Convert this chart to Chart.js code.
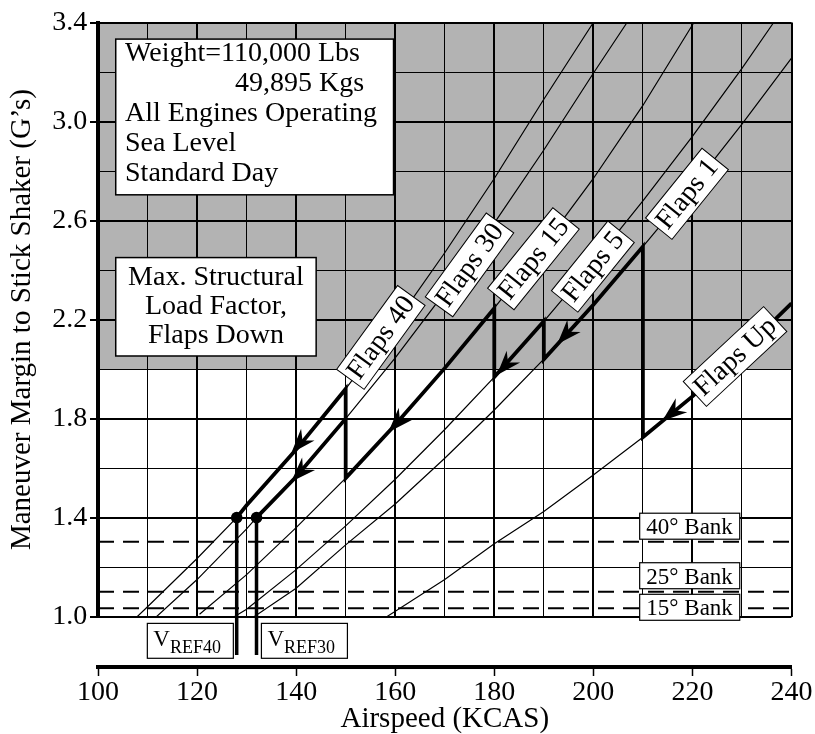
<!DOCTYPE html>
<html>
<head>
<meta charset="utf-8">
<script src="https://cdn.jsdelivr.net/npm/chart.js@4.4.0/dist/chart.umd.min.js"></script>
<style>
    html, body { margin: 0; padding: 0; background: #fff; }
</style>
</head>
<body>
<canvas id="marginChart" width="815" height="734"></canvas>
<script>
// speeds (KCAS) and maneuver margin (G)
var flaps40Speed = [107.9, 110, 120, 128, 130, 140, 150, 160, 170, 180, 190, 200];
var flaps40G     = [1.00, 1.04, 1.235, 1.40, 1.45, 1.675, 1.92, 2.185, 2.47, 2.77, 3.09, 3.40];
var flaps30Speed = [111.8, 120, 130, 132, 140, 150, 160, 170, 180, 190, 200, 206.8];
var flaps30G     = [1.00, 1.15, 1.355, 1.40, 1.565, 1.80, 2.045, 2.31, 2.59, 2.885, 3.195, 3.40];
var flaps15Speed = [120.5, 130, 140, 150, 160, 170, 180, 190, 200, 210, 220.3];
var flaps15G     = [1.01, 1.17, 1.36, 1.56, 1.775, 2.004, 2.246, 2.50, 2.77, 3.065, 3.40];
var flaps5Speed  = [127.5, 130, 140, 150, 160, 170, 180, 190, 200, 210, 220, 230, 236.4];
var flaps5G      = [1.00, 1.03, 1.19, 1.367, 1.555, 1.756, 1.968, 2.193, 2.43, 2.68, 2.94, 3.215, 3.40];
var flaps1Speed  = [131.5, 140, 150, 160, 170, 180, 190, 200, 210, 220, 230, 240];
var flaps1G      = [1.00, 1.115, 1.29, 1.455, 1.64, 1.835, 2.04, 2.26, 2.495, 2.735, 2.99, 3.256];
var flapsUpSpeed = [158.3, 170, 180, 190, 200, 210, 220, 230, 240];
var flapsUpG     = [1.00, 1.15, 1.295, 1.425, 1.572, 1.725, 1.89, 2.07, 2.266];

var curveNames  = ["Flaps 40", "Flaps 30", "Flaps 15", "Flaps 5", "Flaps 1", "Flaps Up"];
var curveSpeeds = [flaps40Speed, flaps30Speed, flaps15Speed, flaps5Speed, flaps1Speed, flapsUpSpeed];
var curveGs     = [flaps40G, flaps30G, flaps15G, flaps5G, flaps1G, flapsUpG];

// flap retraction schedule: [curve, from speed, to speed]
var schedulePath = [["Flaps 40", 128, 150], ["Flaps 15", 150, 180], ["Flaps 5", 180, 190], ["Flaps 1", 190, 210], ["Flaps Up", 210, 240]];
var schedule30   = [["Flaps 30", 132, 150]];

var arrowCurve = ["Flaps 40", "Flaps 30", "Flaps 15", "Flaps 5", "Flaps 1", "Flaps Up"];
var arrowSpeed = [139, 139, 158.6, 180.5, 192.7, 213.9];
var arrowG     = [1.66, 1.545, 1.745, 1.975, 2.10, 1.79];

var labelSpeed = [157.1, 175.0, 187.9, 199.9, 218.9, 228.6];
var labelG     = [2.128, 2.421, 2.446, 2.414, 2.708, 2.051];
var labelAngle = [-54, -54, -51, -51, -51, -43];

var bankNames = ["40° Bank", "25° Bank", "15° Bank"];
var bankG     = [1.303, 1.101, 1.034];
var bankBoxTopG = [1.418, 1.218, 1.0905];

var vrefNames = ["40", "30"];
var vrefSpeed = [128, 132];
var vrefG = 1.4;
var vrefBottomG = 0.845;
var vrefBoxLeft = [109.96, 132.99];

var structuralLimitG = 2.0;
var xTicks = [100, 120, 140, 160, 180, 200, 220, 240];
var yTicks = [1.0, 1.4, 1.8, 2.2, 2.6, 3.0, 3.4];

var infoLines = ["Weight=110,000 Lbs", "49,895 Kgs", "All Engines Operating", "Sea Level", "Standard Day"];
var structLines = ["Max. Structural", "Load Factor,", "Flaps Down"];

var serif = "'Liberation Serif', 'Times New Roman', serif";

function curvePoints(name, from, to)
{
    var i = curveNames.indexOf(name);
    var pts = [];
    for (var k = 0; k < curveSpeeds[i].length; k++) {
        var v = curveSpeeds[i][k];
        if (from === undefined || (v >= from && v <= to)) {
            pts.push({x: v, y: curveGs[i][k]});
        }
    }
    return pts;
}

function pathPoints(segments)
{
    var pts = [];
    segments.forEach(function(s) {
        pts = pts.concat(curvePoints(s[0], s[1], s[2]));
    });
    return pts;
}

function boxText(ctx, text, x, y, font, align)
{
    ctx.font = font;
    ctx.textAlign = align || "left";
    ctx.textBaseline = "alphabetic";
    ctx.fillText(text, x, y);
}

function arrowHead(ctx, x0, y0, ang)
{
    ctx.save();
    ctx.translate(x0, y0);
    ctx.rotate(ang);
    ctx.beginPath();
    ctx.moveTo(0, 0);
    ctx.lineTo(-25, -9);
    ctx.lineTo(-17, 0);
    ctx.lineTo(-25, 9);
    ctx.closePath();
    ctx.fill();
    ctx.restore();
}

var notesPlugin = {
    id: "notes",
    afterDatasetsDraw: function(chart)
    {
        var ctx = chart.ctx;
        var xs = chart.scales.x, ys = chart.scales.y;
        var px = function(v) { return xs.getPixelForValue(v); };
        var py = function(g) { return ys.getPixelForValue(g); };
        ctx.save();
        ctx.fillStyle = "#000";

        // arrows along the schedule
        for (var a = 0; a < arrowSpeed.length; a++) {
            var ci = curveNames.indexOf(arrowCurve[a]);
            var sp = curveSpeeds[ci], gs = curveGs[ci], k = 0;
            while (k < sp.length - 2 && sp[k + 1] <= arrowSpeed[a]) k++;
            var ang = Math.atan2(py(gs[k]) - py(gs[k + 1]), px(sp[k]) - px(sp[k + 1]));
            arrowHead(ctx, px(arrowSpeed[a]), py(arrowG[a]), ang);
        }

        // flap labels
        for (var f = 0; f < curveNames.length; f++) {
            ctx.save();
            ctx.translate(px(labelSpeed[f]), py(labelG[f]));
            ctx.rotate(labelAngle[f] * Math.PI / 180);
            ctx.font = "28px " + serif;
            var w = ctx.measureText(curveNames[f]).width + 8, h = 34;
            ctx.fillStyle = "#fff";
            ctx.fillRect(-w / 2, -h / 2, w, h);
            ctx.lineWidth = 1;
            ctx.strokeStyle = "#000";
            ctx.strokeRect(-w / 2, -h / 2, w, h);
            ctx.fillStyle = "#000";
            ctx.textAlign = "center";
            ctx.textBaseline = "middle";
            ctx.fillText(curveNames[f], 0, 1);
            ctx.restore();
        }

        ctx.lineWidth = 1.5;
        ctx.strokeStyle = "#000";

        // weight box
        var l = px(103.58), t = py(3.333), r = px(159.66), b = py(2.704);
        ctx.fillStyle = "#fff";
        ctx.fillRect(l, t, r - l, b - t);
        ctx.strokeRect(l, t, r - l, b - t);
        ctx.fillStyle = "#000";
        infoLines.forEach(function(s, i) {
            boxText(ctx, s, l + (i === 1 ? 119.3 : 9.3), t + 22.4 + 30 * i, "28px " + serif);
        });

        // structural limit box
        l = px(103.58); t = py(2.4505); r = px(144.04); b = py(2.053);
        ctx.fillStyle = "#fff";
        ctx.fillRect(l, t, r - l, b - t);
        ctx.strokeRect(l, t, r - l, b - t);
        ctx.fillStyle = "#000";
        structLines.forEach(function(s, i) {
            boxText(ctx, s, (l + r) / 2, t + 27.3 + 29 * i, "28px " + serif, "center");
        });

        // bank boxes
        ctx.lineWidth = 1.2;
        for (var n = 0; n < bankNames.length; n++) {
            l = px(209.35); r = px(229.55); t = py(bankBoxTopG[n]);
            ctx.fillStyle = "#fff";
            ctx.fillRect(l, t, r - l, 26);
            ctx.strokeRect(l, t, r - l, 26);
            ctx.fillStyle = "#000";
            boxText(ctx, bankNames[n], l + 6.7, t + 21, "23px " + serif);
        }

        // VREF boxes
        for (var q = 0; q < vrefNames.length; q++) {
            l = px(vrefBoxLeft[q]); t = py(0.973); b = py(0.832);
            ctx.fillStyle = "#fff";
            ctx.fillRect(l, t, 86, b - t);
            ctx.strokeRect(l, t, 86, b - t);
            ctx.fillStyle = "#000";
            boxText(ctx, "V", l + 6, t + 22.7, "23px " + serif);
            var vw = ctx.measureText("V").width;
            boxText(ctx, "REF" + vrefNames[q], l + 6 + vw, t + 29.4, "18px " + serif);
        }
        ctx.restore();
    }
};

function MarginChart()
{
    var datasets = [];

    datasets.push({
        data: [{x: 100, y: 3.4}, {x: 240, y: 3.4}],
        fill: {value: structuralLimitG},
        backgroundColor: "#b3b3b3",
        borderWidth: 0,
        pointRadius: 0,
        order: 10
    });

    bankG.forEach(function(g) {
        datasets.push({
            data: [{x: 100, y: g}, {x: 240, y: g}],
            borderColor: "#000",
            borderWidth: 2,
            borderDash: [16, 9],
            pointRadius: 0,
            order: 8
        });
    });

    curveNames.forEach(function(name) {
        datasets.push({
            data: curvePoints(name),
            borderColor: "#000",
            borderWidth: 1.2,
            pointRadius: 0,
            order: 6
        });
    });

    [pathPoints(schedulePath), pathPoints(schedule30)].forEach(function(pts) {
        datasets.push({
            data: pts,
            borderColor: "#000",
            borderWidth: 3.8,
            pointRadius: 0,
            order: 4
        });
    });

    vrefSpeed.forEach(function(v) {
        datasets.push({
            data: [{x: v, y: vrefG}, {x: v, y: vrefBottomG}],
            borderColor: "#000",
            borderWidth: 3.5,
            pointRadius: 0,
            clip: false,
            order: 3
        });
    });

    datasets.push({
        data: vrefSpeed.map(function(v) { return {x: v, y: vrefG}; }),
        showLine: false,
        pointRadius: 5.8,
        pointBackgroundColor: "#000",
        pointBorderWidth: 0,
        order: 2
    });

    datasets.forEach(function(d) {
        if (d.showLine === undefined) d.showLine = true;
        d.tension = 0;
    });

    new Chart("marginChart", {
        type: "scatter",
        data: { datasets: datasets },
        plugins: [notesPlugin],
        options: {
            responsive: false,
            animation: false,
            devicePixelRatio: 1,
            layout: { padding: { top: 22.5, right: 23.3, bottom: 0, left: 0 } },
            plugins: {
                legend: { display: false },
                tooltip: { enabled: false },
                filler: { drawTime: "beforeDraw" }
            },
            scales: {
                x: {
                    type: "linear",
                    position: "bottom",
                    weight: 0,
                    min: 100,
                    max: 240,
                    afterFit: function(s) { s.height = 50.3; },
                    border: { display: false },
                    grid: {
                        color: "#000",
                        drawTicks: false,
                        lineWidth: function(c) { return (c.tick && c.tick.value % 20 === 0) ? 2 : 1; }
                    },
                    ticks: { display: false, stepSize: 10 }
                },
                x2: {
                    type: "linear",
                    position: "bottom",
                    weight: 1,
                    min: 100,
                    max: 240,
                    afterFit: function(s) { s.height = 67; },
                    border: { display: true, width: 4, color: "#000" },
                    grid: { drawOnChartArea: false, drawTicks: true, tickLength: 9, tickWidth: 1.5, tickColor: "#000" },
                    afterBuildTicks: function(s) { s.ticks = xTicks.map(function(v) { return {value: v}; }); },
                    ticks: {
                        color: "#000",
                        padding: 2.5,
                        autoSkip: false,
                        maxRotation: 0,
                        font: { family: serif, size: 28, lineHeight: 1 }
                    },
                    title: {
                        display: true,
                        text: "Airspeed (KCAS)",
                        color: "#000",
                        font: { family: serif, size: 29, lineHeight: 1 },
                        padding: { top: 0, bottom: 0 }
                    }
                },
                y: {
                    type: "linear",
                    min: 1.0,
                    max: 3.4,
                    afterFit: function(s) { s.width = 98; },
                    border: { display: true, width: 4, color: "#000" },
                    grid: {
                        color: "#000",
                        tickLength: 8,
                        tickWidth: 2,
                        lineWidth: function(c) { return (c.tick && Math.round(c.tick.value * 10) % 4 === 2) ? 2 : 1; },
                        tickColor: function(c) { return (c.tick && Math.round(c.tick.value * 10) % 4 === 2) ? "#000" : "rgba(0,0,0,0)"; }
                    },
                    ticks: {
                        stepSize: 0.2,
                        color: "#000",
                        padding: 2.7,
                        autoSkip: false,
                        font: { family: serif, size: 28, lineHeight: 1 },
                        callback: function(v) {
                            var isMajor = yTicks.some(function(t) { return Math.abs(t - v) < 1e-6; });
                            return isMajor ? v.toFixed(1) : "";
                        }
                    },
                    title: {
                        display: true,
                        text: "Maneuver Margin to Stick Shaker (G\u2019s)",
                        color: "#000",
                        font: { family: serif, size: 29, lineHeight: 1 },
                        padding: { top: 7.5, bottom: 0 }
                    }
                }
            }
        }
    });
}

MarginChart();
</script>
</body>
</html>
